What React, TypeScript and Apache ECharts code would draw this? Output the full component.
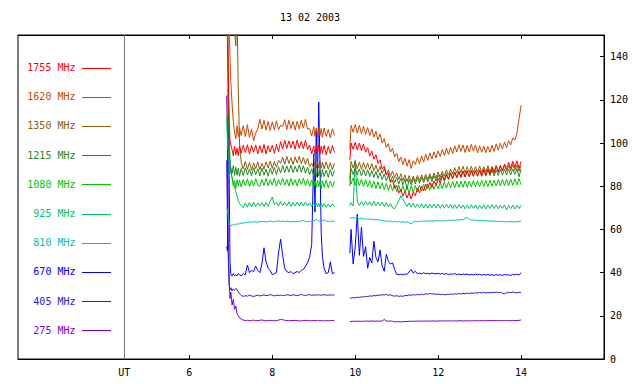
import React, { useEffect, useRef } from "react";
import * as echarts from "echarts";

const TITLE = "13 02 2003";
const FREQ_LABELS = ["1755 MHz", "1620 MHz", "1350 MHz", "1215 MHz", "1080 MHz", "925 MHz", "810 MHz", "670 MHz", "405 MHz", "275 MHz"];
const COLORS = ["#ff0000", "#c84800", "#8c5c0a", "#228822", "#00c400", "#00bf64", "#00bebe", "#0000ff", "#2424c8", "#7800c8"];
const X_TICKS = [6, 8, 10, 12, 14];
const UT_POS = 4.43;
const UT_LABEL = "UT";
const Y_TICKS = [0, 20, 40, 60, 80, 100, 120, 140];
const X_MIN = 1.867;
const X_MAX = 16;
const Y_MIN = 0;
const Y_MAX = 150;
const GAP_T = 9.7;

const T_A = [
  6.90, 6.92, 6.94, 6.96, 6.98, 7.00, 7.03, 7.06, 7.09, 7.12,
  7.15, 7.18, 7.21, 7.25, 7.30, 7.35, 7.40, 7.45, 7.50, 7.55,
  7.60, 7.65, 7.70, 7.75, 7.80, 7.85, 7.90, 7.95, 8.00, 8.05,
  8.10, 8.15, 8.20, 8.25, 8.30, 8.35, 8.40, 8.45, 8.50, 8.55,
  8.60, 8.65, 8.70, 8.75, 8.80, 8.85, 8.90, 8.95, 9.00, 9.03,
  9.06, 9.09, 9.12, 9.15, 9.18, 9.21, 9.25, 9.30, 9.35, 9.40,
  9.45, 9.50,
];
const T_B = [
  9.87, 9.90, 9.95, 10.00, 10.05, 10.10, 10.15, 10.20, 10.25, 10.30,
  10.35, 10.40, 10.45, 10.50, 10.55, 10.60, 10.65, 10.70, 10.75, 10.80,
  10.85, 10.90, 10.95, 11.00, 11.05, 11.10, 11.15, 11.20, 11.25, 11.30,
  11.35, 11.40, 11.45, 11.50, 11.55, 11.60, 11.65, 11.70, 11.75, 11.80,
  11.85, 11.90, 11.95, 12.00, 12.05, 12.10, 12.15, 12.20, 12.25, 12.30,
  12.35, 12.40, 12.45, 12.50, 12.55, 12.60, 12.65, 12.70, 12.75, 12.80,
  12.85, 12.90, 12.95, 13.00, 13.05, 13.10, 13.15, 13.20, 13.25, 13.30,
  13.35, 13.40, 13.45, 13.50, 13.55, 13.60, 13.65, 13.70, 13.75, 13.80,
  13.85, 13.90, 13.95, 14.00,
];

const F1755_A = [
  175, 168, 132, 110, 101, 99, 97, 94, 98.5, 94.5,
  97.5, 94.2, 98.6, 95.3, 99, 95.6, 99.2, 94.8, 98.9, 95.7,
  99.1, 95, 98.7, 95.4, 99.3, 94.9, 98.8, 95.8, 99, 95.2,
  99.4, 96, 100.6, 97.2, 101.3, 97.5, 101, 97.8, 100.9, 97.1,
  101.4, 97.6, 100.8, 97.3, 101.2, 97, 99.1, 95, 98.6, 94.7,
  98.9, 95.2, 99, 94.8, 98.5, 95.3, 98.9, 94.6, 98.4, 95.1,
  98.8, 95.6,
];
const F1755_B = [
  92, 100, 97, 100.3, 96.8, 100, 96.5, 99.6, 95.7, 97.8,
  94, 96.3, 92.5, 94.6, 90.5, 92.2, 88, 89.3, 85.3, 86,
  81.7, 82.9, 79, 80.4, 76.8, 78.6, 75.4, 77.6, 74.5, 77.1,
  74, 77.4, 75.6, 79.1, 76.9, 80.1, 77.8, 81, 79, 81.8,
  79.3, 82.5, 80.4, 83.6, 81.5, 84.5, 82.3, 85.3, 83, 86,
  83.4, 86.5, 83.9, 86.8, 84.1, 87, 84.2, 87.1, 84.4, 87.3,
  84.5, 87.4, 84.7, 87.6, 84.9, 87.9, 85.1, 88.1, 85.6, 88.6,
  86, 89.1, 86.5, 89.6, 87.1, 90.2, 88, 91.1, 88.3, 91.6,
  88.6, 91.8, 88.2, 91.4,
];

const F1620_A = [
  175, 175, 168, 152, 140, 128, 118, 110, 105, 102,
  108, 103, 107, 103.5, 108, 103, 108.5, 102.5, 106.5, 101,
  104.5, 106.5, 111, 106.5, 110.5, 106, 110, 105.8, 109.8, 106,
  110.3, 106.2, 108.2, 107.6, 110.8, 106.2, 110.6, 106.7, 110, 106,
  110.1, 106.4, 110.7, 106.9, 111, 106.5, 106.6, 103.2, 107.5, 103,
  107, 102.7, 107.2, 103.4, 106.7, 102.6, 106.9, 103.1, 106.3, 102.4,
  106.6, 103.6,
];
const F1620_B = [
  97, 108.2, 105, 108.6, 104.6, 108.2, 104.3, 107.8, 103.9, 107.2,
  103.4, 106.5, 102.7, 105.4, 101.4, 104.1, 100, 102, 97.9, 99.7,
  95.8, 97.6, 93.6, 95.2, 91.4, 93.5, 90, 92.9, 89.3, 92.3,
  88.2, 91.8, 90.1, 93.2, 90.4, 94, 91.2, 94.8, 91.9, 95.4,
  92.6, 95.9, 93.1, 96.4, 93.7, 97, 94.1, 97.6, 94.7, 98,
  95.1, 98.7, 95.8, 99.2, 96.1, 99.1, 95.6, 98.9, 95.9, 99.4,
  96.2, 99.1, 95.4, 98.7, 95.7, 98.6, 95.5, 98.4, 95.7, 99,
  96.1, 99.6, 96.7, 99.9, 97.2, 100.5, 97.8, 101, 99.1, 102.4,
  101.3, 104.5, 111, 117.5,
];

const F1350_A = [
  175, 175, 175, 175, 170, 165, 160, 158, 152, 145,
  160, 125, 100, 91, 88, 91.5, 87.8, 91, 87.5, 90.8,
  88.1, 91.3, 87.7, 90.6, 87.9, 91.2, 88.4, 91.7, 88.2, 91.5,
  88.8, 92, 90.6, 93.4, 90.2, 93.8, 90.5, 93.2, 90, 93.6,
  90.8, 93.9, 90.4, 93.3, 90.1, 92.9, 89.2, 90.6, 88.4, 91.2,
  88.6, 91.5, 88.3, 91.8, 88.3, 91.1, 88, 91.3, 87.8, 90.9,
  87.6, 90.7,
];
const F1350_B = [
  84, 91.5, 88.4, 91.6, 88.1, 91.2, 87.8, 91, 87.9, 90.7,
  87.6, 90.5, 87.2, 89.8, 86.5, 89.1, 85.9, 88.3, 85.2, 87.6,
  84.5, 87, 83.9, 86.2, 83.1, 85.7, 82.6, 85.2, 82.1, 84.9,
  81.8, 84.7, 82.2, 85, 82.4, 85.3, 82.7, 85.5, 83, 85.8,
  83.3, 86.1, 83.7, 86.6, 84.1, 87, 84.6, 87.5, 85.1, 88,
  85.6, 88.6, 86, 89.1, 86.3, 89.2, 86.1, 89, 86.4, 89.3,
  86.2, 89.1, 86.5, 89.4, 86.3, 89, 86.6, 89.5, 86.4, 89.2,
  86.8, 89.7, 86.6, 89.4, 87, 89.9, 86.9, 89.6, 87.2, 90.1,
  87.3, 89.8, 86.9, 89.6,
];

const F1215_A = [
  165, 145, 112, 96, 91, 88.5, 86, 89.5, 85, 88.8,
  85, 88.3, 84.6, 88.2, 84.9, 88.5, 85.2, 88, 84.7, 88.6,
  85.3, 88.1, 84.8, 88.4, 85.1, 87.9, 84.6, 88.3, 85.5, 88.7,
  85.4, 89, 86.1, 89.6, 86.3, 89.4, 86.5, 89.7, 86.2, 89.3,
  86.6, 89.8, 86.4, 89.5, 86, 88.9, 85.3, 88, 84.6, 87.9,
  84.5, 88, 84.7, 87.6, 84.2, 87.8, 84.4, 87.5, 84.1, 87.7,
  84.6, 87.3,
];
const F1215_B = [
  80, 88.2, 85.4, 88.5, 85.1, 88, 84.8, 87.9, 84.7, 87.6,
  84.4, 87.3, 84.1, 86.8, 83.6, 86.2, 83.1, 85.6, 82.5, 85.1,
  82, 84.6, 81.5, 84.1, 81, 83.7, 80.6, 83.4, 78.5, 83.2,
  80.5, 83.6, 81, 83.9, 81.3, 84.1, 81.6, 84.4, 81.9, 84.7,
  82.1, 84.9, 82.4, 85.2, 82.7, 85.6, 83, 85.9, 83.4, 86.3,
  83.8, 86.6, 84, 86.8, 84.2, 87, 84.4, 87.1, 84.5, 87.3,
  84.7, 87.4, 84.6, 87.2, 84.5, 87.3, 84.8, 87.5, 84.9, 87.6,
  84.7, 87.4, 84.9, 87.7, 85.1, 87.8, 85.2, 87.9, 85.3, 88,
  85.4, 88.1, 84.3, 87.9,
];

const F1080_A = [
  170, 155, 130, 105, 92, 87, 84, 80, 82.5, 79,
  83, 80, 82.8, 79.6, 83.2, 80.2, 83.4, 79.8, 82.9, 80,
  83.5, 80.4, 80, 83.1, 80.3, 83.6, 80.1, 83, 80.6, 83.7,
  80, 83.1, 80.5, 83.8, 80.4, 83.2, 80.1, 83.5, 80.5, 83,
  80, 83.4, 80.8, 83.7, 80.3, 83.2, 79.9, 82.9, 79.6, 82.7,
  79.4, 82.9, 79.8, 82.3, 78.9, 82.6, 79.5, 82.8, 79.2, 82.4,
  79.6, 82.5,
];
const F1080_B = [
  84, 81, 83.8, 80.5, 83.6, 80.2, 83.3, 79.9, 82.9, 79.6,
  82.6, 79.3, 82.3, 79, 82, 78.7, 81.6, 78.4, 81.3, 78.1,
  81, 77.8, 80.7, 77.5, 80.4, 77.3, 80.2, 77.1, 80, 76.8,
  80.1, 77.2, 80.3, 77.4, 80.5, 77.7, 80.8, 77.9, 81.1, 78.2,
  81.3, 78.5, 81.5, 78.7, 81.8, 78.9, 82, 79.1, 82.1, 79.2,
  82.2, 79.3, 82.3, 79.4, 82.4, 79.5, 82.5, 79.4, 82.3, 79.6,
  82.6, 79.7, 82.5, 79.8, 82.7, 79.9, 82.6, 79.8, 82.8, 80,
  82.9, 80.1, 83, 80.2, 83.1, 80.3, 83.2, 80.2, 83.3, 80.4,
  83.4, 80.5, 83.6, 80.7,
];

const F925_A = [
  112, 100, 95, 91, 88, 86, 84, 82, 79.5, 77.5,
  75.5, 73.5, 72, 71, 70, 72.2, 70.3, 72.5, 70.4, 72.6,
  70.6, 72.3, 70.8, 72.4, 70.6, 72.5, 70.7, 73, 75, 71.4,
  72.6, 70.8, 72.9, 71, 72.6, 70.9, 72.8, 70.7, 72.4, 70.8,
  72.5, 70.9, 72.6, 70.8, 72.7, 70.9, 72.3, 70.6, 72.4, 70.7,
  72.2, 70.4, 72.1, 70.3, 71.9, 70.5, 72, 70.2, 71.8, 70.3,
  71.9, 70.4,
];
const F925_B = [
  71, 72.4, 70.8, 92, 72.8, 71, 72.9, 71.1, 72.9, 71.2,
  72.8, 71, 73, 71.1, 72.7, 70.9, 72.6, 70.6, 72.4, 70.4,
  72, 70, 69.6, 71.4, 73.2, 75.6, 74.1, 72.3, 70.6, 72.3,
  70.3, 72, 70.1, 71.8, 70, 71.9, 69.9, 71.7, 69.8, 71.6,
  70, 71.8, 69.9, 71.6, 69.7, 71.5, 69.8, 71.7, 69.9, 71.5,
  69.6, 71.4, 69.7, 71.5, 69.8, 71.3, 69.5, 71.2, 69.6, 71.4,
  69.7, 71.3, 69.4, 71.1, 69.6, 71.4, 69.5, 71.2, 69.7, 71.5,
  69.6, 71.3, 69.5, 71.2, 69.7, 71.4, 69, 71.1, 69.6, 71.3,
  69.4, 71.2, 69.6, 71.1,
];

const F810_A = [
  70, 69, 66, 62.5, 61.5, 62, 61.8, 62.3, 62, 62.5,
  62.3, 62.8, 62.5, 63, 62.8, 63.3, 63.1, 63.5, 63.2, 63.6,
  63.4, 63.2, 63.7, 63.5, 63.8, 63.4, 63.6, 63.9, 63.7, 63.5,
  63.8, 64, 63.6, 63.8, 63.5, 63.9, 63.6, 63.4, 63.7, 63.5,
  63.8, 63.6, 63.9, 64.1, 63.7, 63.5, 63.8, 63.6, 63.9, 64.2,
  64.6, 64.3, 64, 63.7, 64.2, 63.9, 64.4, 63.8, 63.6, 63.9,
  63.7, 63.8,
];
const F810_B = [
  65.4, 65.2, 65.5, 65.1, 65.3, 64.9, 65.2, 64.8, 65, 64.6,
  64.9, 64.5, 64.7, 64.3, 64.6, 64.2, 64.1, 63.8, 64, 63.6,
  63.9, 63.5, 63.8, 63.4, 63.7, 63.3, 63.6, 63.2, 63.5, 63,
  62.6, 63.4, 63.8, 63.5, 63.9, 63.6, 64, 63.7, 64.1, 63.8,
  64, 63.7, 64.2, 63.9, 64.1, 63.8, 64.2, 63.9, 64.3, 64,
  64.4, 64.1, 64.5, 64.2, 64.6, 64.4, 65.1, 65.6, 64.6, 64.3,
  64.5, 64.1, 64.3, 64, 64.2, 63.9, 64.1, 63.8, 64, 63.7,
  63.9, 63.6, 63.8, 63.5, 63.7, 63.4, 63.6, 63.5, 63.7, 63.4,
  63.6, 63.5, 63.7, 63.8,
];

const F670_A = [
  52, 50, 125, 85, 45, 39, 38.5, 39.5, 38.5, 39,
  38.5, 39.5, 39, 38.5, 39.5, 39, 43.5, 40, 41, 40.5,
  43, 41, 40, 44, 51.5, 45, 42, 41, 39, 39.5,
  40, 49, 55.5, 48, 42, 40.5, 40, 40.5, 39.5, 40,
  40.5, 40, 41, 41.5, 43, 44.5, 47, 53, 95, 68,
  106, 84, 119, 90, 58, 47, 42, 39.5, 40, 45,
  39.5, 40,
];
const F670_B = [
  49, 60, 44, 52, 67, 48, 61, 47.5, 52, 42,
  47, 44.5, 54.5, 47, 45, 50.5, 43, 40.6, 48.5, 45.2,
  44, 44.5, 41.4, 39.2, 39, 39.3, 39, 39.4, 39.1, 40.5,
  41.3, 39.8, 40.6, 39.5, 39.8, 39.4, 39.9, 39.5, 39.7, 39.3,
  39.8, 39.5, 39.4, 39.7, 39.3, 39.6, 39.2, 39.5, 39.1, 39.4,
  39.2, 39.6, 39.1, 39.3, 39, 39.4, 39.1, 39.3, 38.9, 39.2,
  38.9, 39.3, 39, 39.2, 38.8, 39.1, 38.9, 39.2, 38.8, 39,
  38.7, 39.1, 38.8, 39, 38.7, 39.1, 38.8, 39, 38.7, 39.2,
  38.9, 39.3, 38.8, 40,
];

const F405_A = [
  92, 62, 46, 34, 32, 33, 31.5, 32.5, 31.8, 32.6,
  32.2, 31, 30.2, 29.4, 29, 29.3, 29.1, 29.5, 29.2, 28.9,
  29.3, 29.6, 29.2, 29.4, 29.7, 29.3, 29.5, 29.8, 29.6, 29.2,
  29.5, 29.4, 29.6, 29.3, 29.5, 29.7, 29.6, 29.4, 29.8, 29.5,
  29.3, 29.6, 29.9, 29.6, 29.4, 29.7, 29.8, 29.5, 29.6, 29.7,
  29.5, 29.8, 29.6, 29.7, 29.5, 29.6, 29.8, 29.6, 29.5, 29.7,
  29.6, 29.6,
];
const F405_B = [
  28, 28.3, 28.4, 28.3, 28.6, 28.5, 28.8, 28.7, 29, 28.9,
  29.2, 29.1, 29.4, 29.2, 29.6, 29.5, 29.8, 29.6, 29.9, 29.5,
  29.7, 29.3, 29.1, 29.3, 29, 29.2, 29, 29.4, 29.3, 29.7,
  29.5, 29.8, 29.6, 29.9, 29.7, 30, 29.8, 30.2, 30, 30.3,
  30.1, 30.2, 29.9, 30.1, 29.8, 30, 29.7, 29.9, 29.8, 30.1,
  29.9, 30.2, 30, 30.3, 30.1, 30.4, 30.2, 30.5, 30.3, 30.6,
  30.4, 30.7, 30.5, 30.8, 30.6, 30.9, 30.5, 30.8, 30.6, 30.9,
  30.7, 31, 30.6, 30.9, 30.4, 30.2, 30.6, 30.9, 30.7, 31,
  30.8, 30.6, 30.9, 30.8,
];

const F275_A = [
  122, 104, 50, 36, 28, 31, 25, 27.5, 23, 24.5,
  21, 20, 19, 18.5, 18, 17.8, 17.9, 17.7, 17.8, 18,
  17.7, 17.8, 17.9, 18.1, 17.8, 17.6, 17.8, 17.9, 17.8, 17.7,
  17.8, 18, 18.3, 18.2, 17.9, 17.8, 17.7, 17.8, 17.8, 17.9,
  17.8, 17.6, 17.7, 17.8, 17.9, 17.8, 17.7, 17.8, 17.8, 17.7,
  17.8, 17.9, 17.8, 17.8, 17.7, 17.8, 17.6, 17.8, 17.7, 17.8,
  17.8, 17.8,
];
const F275_B = [
  17.3, 17.4, 17.5, 17.4, 17.5, 17.5, 17.4, 17.5, 17.6, 17.5,
  17.5, 17.6, 17.5, 17.5, 17.6, 17.5, 17.6, 18.3, 17.6, 17.5,
  17.6, 17.5, 17.2, 17.2, 17.3, 17.2, 17.3, 17.3, 17.4, 17.5,
  17.4, 17.5, 17.5, 17.6, 17.5, 17.6, 17.5, 17.6, 17.6, 17.5,
  17.6, 17.6, 17.5, 17.6, 17.6, 17.7, 17.6, 17.6, 17.7, 17.6,
  17.6, 17.7, 17.6, 17.7, 17.7, 17.6, 17.7, 17.7, 17.6, 17.7,
  17.7, 17.8, 17.7, 17.7, 17.8, 17.7, 17.7, 17.8, 17.7, 17.8,
  17.8, 17.7, 17.8, 17.8, 17.7, 17.8, 17.8, 17.8, 17.7, 17.8,
  17.8, 17.8, 17.9, 18.1,
];

const SERIES_A = [F1755_A, F1620_A, F1350_A, F1215_A, F1080_A, F925_A, F810_A, F670_A, F405_A, F275_A];
const SERIES_B = [F1755_B, F1620_B, F1350_B, F1215_B, F1080_B, F925_B, F810_B, F670_B, F405_B, F275_B];

const FONT = "DejaVu Sans Mono, monospace";

function buildData(a: number[], b: number[]) {
  const out: any[] = [];
  T_A.forEach((t, i) => out.push([t, a[i]]));
  out.push([GAP_T, "-"]);
  T_B.forEach((t, i) => out.push([t, b[i]]));
  return out;
}

export default function App() {
  const ref = useRef<HTMLDivElement>(null);

  useEffect(() => {
    if (!ref.current) return;
    const chart = echarts.init(ref.current, null, { renderer: "svg" });

    const series: any[] = [];
    for (let i = FREQ_LABELS.length - 1; i >= 0; i--) {
      series.push({
        name: FREQ_LABELS[i],
        type: "line",
        data: buildData(SERIES_A[i], SERIES_B[i]),
        showSymbol: false,
        symbol: "none",
        connectNulls: false,
        clip: true,
        silent: true,
        lineStyle: { color: COLORS[i], width: 1 },
        itemStyle: { color: COLORS[i] },
      });
    }
    series.push({
      type: "line",
      data: [],
      silent: true,
      markLine: {
        silent: true,
        symbol: ["none", "none"],
        label: { show: false },
        lineStyle: { color: "#777777", width: 1, type: "solid" },
        data: [{ xAxis: UT_POS }],
      },
    });

    const legendGraphics: any[] = [];
    FREQ_LABELS.forEach((lab, i) => {
      const y = 67.5 + i * 29.2;
      legendGraphics.push({
        type: "text",
        x: 75.5,
        y,
        silent: true,
        style: {
          text: lab,
          align: "right",
          verticalAlign: "middle",
          fill: COLORS[i],
          font: `10px ${FONT}`,
        },
      });
      legendGraphics.push({
        type: "line",
        silent: true,
        shape: { x1: 82, y1: Math.round(y) + 0.5, x2: 111, y2: Math.round(y) + 0.5 },
        style: { stroke: COLORS[i], lineWidth: 1 },
      });
    });

    const axisCommon = {
      type: "value",
      min: X_MIN,
      max: X_MAX,
      splitLine: { show: false },
      axisLine: { show: true, onZero: false, lineStyle: { color: "#000", width: 1 } },
      axisTick: { show: true, inside: true, length: 4, customValues: X_TICKS, lineStyle: { color: "#000", width: 1 } },
    };

    chart.setOption({
      animation: false,
      backgroundColor: "#ffffff",
      grid: { left: 18, top: 35, right: 36, bottom: 25, show: true, borderColor: "#000", borderWidth: 1, backgroundColor: "transparent" },
      xAxis: [
        {
          ...axisCommon,
          position: "bottom",
          axisLabel: {
            show: true,
            customValues: [UT_POS, ...X_TICKS],
            formatter: (v: number) => (v < 5 ? UT_LABEL : String(v)),
            color: "#000",
            fontFamily: FONT,
            fontSize: 10,
            margin: 8,
          },
        },
        {
          ...axisCommon,
          position: "top",
          axisLabel: { show: false },
        },
      ],
      yAxis: {
        type: "value",
        min: Y_MIN,
        max: Y_MAX,
        position: "right",
        splitLine: { show: false },
        axisLine: { show: true, onZero: false, lineStyle: { color: "#000", width: 1 } },
        axisTick: { show: true, inside: true, length: 4, customValues: Y_TICKS, lineStyle: { color: "#000", width: 1 } },
        axisLabel: { show: true, customValues: Y_TICKS, color: "#000", fontFamily: FONT, fontSize: 10, margin: 6 },
      },
      graphic: [
        {
          type: "text",
          x: 310,
          y: 17.5,
          silent: true,
          style: { text: TITLE, align: "center", verticalAlign: "middle", fill: "#000", font: `10px ${FONT}` },
        },
        ...legendGraphics,
      ],
      series,
    });

    return () => chart.dispose();
  }, []);

  return (
    <div
      ref={ref}
      style={{ position: "fixed", left: 0, top: 0, width: 640, height: 384, background: "#fff" }}
    />
  );
}
